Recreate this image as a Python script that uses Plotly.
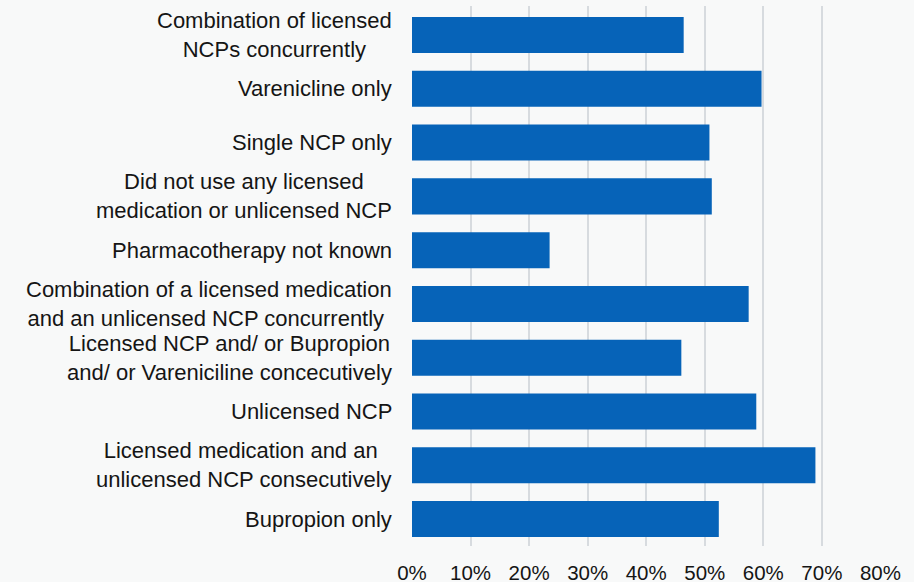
import plotly.graph_objects as go

# Categories (top to bottom) and their share of quitters
categories = [
    "Combination of licensed<br>NCPs concurrently",
    "Varenicline only",
    "Single NCP only",
    "Did not use any licensed<br>medication or unlicensed NCP",
    "Pharmacotherapy not known",
    "Combination of a licensed medication<br>and an unlicensed NCP concurrently ",
    "Licensed NCP and/ or Bupropion<br>and/ or Vareniciline concecutively",
    "Unlicensed NCP",
    "Licensed medication and an <br>unlicensed NCP consecutively",
    "Bupropion only",
]
values = [46.4, 59.7, 50.8, 51.2, 23.5, 57.5, 46.0, 58.8, 68.9, 52.4]

x_ticks = [0, 10, 20, 30, 40, 50, 60, 70, 80]
x_tick_labels = [f"{t}%" for t in x_ticks]

FONT = "Liberation Sans, Arial, sans-serif"
TEXT = "#151515"
BG = "#f8f9f9"
BAR = "#0663b8"

fig = go.Figure(
    go.Bar(
        x=values,
        y=categories,
        orientation="h",
        marker=dict(color=BAR, line=dict(width=0)),
        hoverinfo="skip",
    )
)

# Category labels as centred multi-line text to the left of the bars
for cat in categories:
    fig.add_annotation(
        x=0, xref="paper", y=cat, yref="y",
        text=cat, showarrow=False,
        xanchor="right", yanchor="middle", align="center",
        xshift=-18,
        font=dict(family=FONT, size=22, color=TEXT),
    )

fig.update_layout(
    width=914, height=582,
    margin=dict(l=412, r=33, t=6, b=36),
    paper_bgcolor=BG, plot_bgcolor=BG,
    bargap=0.33,
    showlegend=False,
    font=dict(family=FONT, size=20, color=TEXT),
)
fig.update_xaxes(
    range=[0, 80.1],
    tickvals=x_ticks, ticktext=x_tick_labels,
    showgrid=True, gridcolor="#d7dbdf", gridwidth=1.5,
    zeroline=False, showline=False, ticks="",
    ticklabelstandoff=12, automargin=False,
    tickfont=dict(family=FONT, size=20.5, color=TEXT),
)
fig.update_yaxes(
    categoryorder="array", categoryarray=categories,
    autorange="reversed", automargin=False,
    showticklabels=False, showgrid=False, zeroline=False, showline=False,
)

fig.write_html("out.html")
